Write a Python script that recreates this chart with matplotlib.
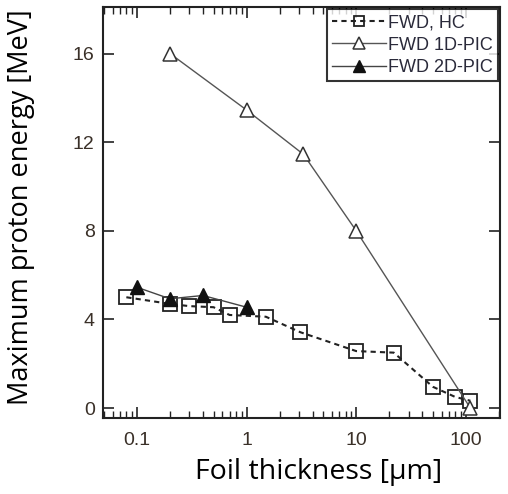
import matplotlib
matplotlib.use("Agg")
import matplotlib.pyplot as plt
from matplotlib.ticker import LogLocator, NullFormatter, FixedLocator

# data
hc_x = [0.08, 0.2, 0.3, 0.5, 0.7, 1.5, 3.1, 10, 22, 50, 80, 110]
hc_y = [5.0, 4.7, 4.6, 4.55, 4.2, 4.12, 3.42, 2.57, 2.5, 0.96, 0.5, 0.33]

pic1_x = [0.2, 1.0, 3.3, 10, 110]
pic1_y = [16.0, 13.45, 11.45, 8.0, 0.0]

pic2_x = [0.1, 0.2, 0.4, 1.0]
pic2_y = [5.45, 4.93, 5.08, 4.55]

labels = ["FWD, HC", "FWD 1D-PIC", "FWD 2D-PIC"]
yticks = [0, 4, 8, 12, 16]
xticks = [0.1, 1, 10, 100]
xticklabels = ["0.1", "1", "10", "100"]

tick_col = "#3a3028"

fig = plt.figure(figsize=(5.08, 4.94), dpi=100)
ax = fig.add_axes([103/508, 1-418/494, 397/508, 411/494])

ax.plot(hc_x, hc_y, linestyle=(0, (2.5, 2)), color="#222222", lw=1.5,
        marker="s", ms=9.5, mfc="none", mec="#222222", mew=1.3, label=labels[0])
ax.plot(pic1_x, pic1_y, "-", color="#555555", lw=1.0,
        marker="^", ms=10.5, mfc="white", mec="#333333", mew=1.1, label=labels[1])
ax.plot(pic2_x, pic2_y, "-", color="#444444", lw=1.0,
        marker="^", ms=10, mfc="#111111", mec="#111111", label=labels[2])

ax.set_xscale("log")
ax.set_xlim(0.049, 205)
ax.set_ylim(-0.45, 18.1)

ax.xaxis.set_major_locator(FixedLocator(xticks))
ax.set_xticklabels(xticklabels)
ax.xaxis.set_minor_locator(LogLocator(base=10, subs=range(2, 10)))
ax.xaxis.set_minor_formatter(NullFormatter())
ax.set_yticks(yticks)

ax.tick_params(which="both", direction="in", top=True, right=True,
               labelsize=14, labelcolor=tick_col, color="#222222")
ax.tick_params(which="major", length=8, width=1.2)
ax.tick_params(which="minor", length=5, width=1.0)
ax.tick_params(axis="x", pad=10)
ax.tick_params(axis="y", pad=6)
for lab in ax.get_xticklabels() + ax.get_yticklabels():
    lab.set_family("Liberation Sans")

for s in ax.spines.values():
    s.set_linewidth(1.5)
    s.set_color("#222222")

leg = ax.legend(loc="upper right", frameon=True, fancybox=False,
                borderaxespad=0.1, handlelength=3.0, handletextpad=0.1,
                borderpad=0.3, labelspacing=0.3, markerscale=0.8,
                prop={"family": "Liberation Sans", "size": 13})
leg.get_frame().set_edgecolor("black")
leg.get_frame().set_linewidth(1.5)
for t in leg.get_texts():
    t.set_color("#2a2a3a")

fig.text(21/508, 1-207/494, "Maximum proton energy [MeV]", rotation=90,
         ha="center", va="center", fontsize=19.5, family="Open Sans")
fig.text(319/508, 1-472/494, "Foil thickness [\u00b5m]",
         ha="center", va="center", fontsize=20.5, family="Open Sans")

fig.savefig("out.png", dpi=100)
